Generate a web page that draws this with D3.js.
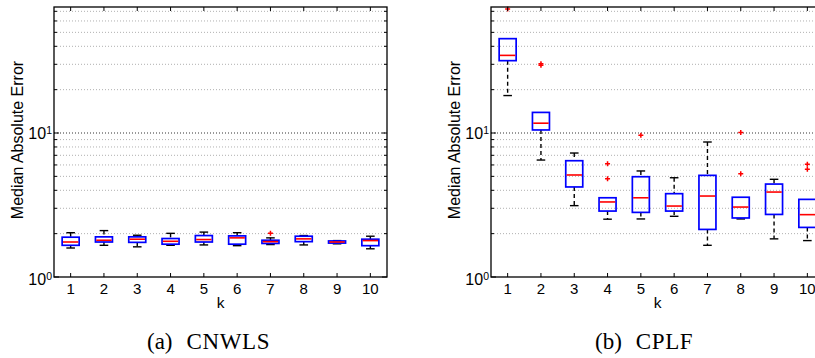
<!DOCTYPE html>
<html><head><meta charset="utf-8">
<script src="https://cdn.jsdelivr.net/npm/d3@7"></script>
<style>body{margin:0;background:#fff}svg{display:block}</style>
</head><body>
<svg id="c" width="815" height="358"></svg>
<script>
const ks = [1,2,3,4,5,6,7,8,9,10];
// CNWLS: lower whisker, q1, median, q3, upper whisker
const cnwlsLow  = [1.59,1.66,1.62,1.66,1.67,1.65,1.68,1.67,1.70,1.57];
const cnwlsQ1   = [1.66,1.75,1.74,1.69,1.75,1.69,1.71,1.76,1.72,1.65];
const cnwlsMed  = [1.75,1.80,1.83,1.77,1.82,1.87,1.76,1.84,1.75,1.79];
const cnwlsQ3   = [1.89,1.90,1.90,1.85,1.94,1.93,1.80,1.92,1.78,1.83];
const cnwlsHigh = [2.03,2.10,1.95,2.01,2.05,2.03,1.87,1.94,1.79,1.92];
const cnwlsOut  = [[],[],[],[],[],[],[2.01],[],[],[]];
// CPLF
const cplfLow  = [18.2,6.49,3.13,2.52,2.53,2.64,1.66,2.53,1.84,1.79];
const cplfQ1   = [31.8,10.5,4.22,2.87,2.81,2.87,2.14,2.57,2.72,2.21];
const cplfMed  = [34.6,11.7,5.11,3.32,3.55,3.11,3.65,3.06,3.89,2.71];
const cplfQ3   = [45.2,13.9,6.42,3.55,4.97,3.79,5.08,3.58,4.42,3.46];
const cplfHigh = [45.2,13.9,7.26,3.55,5.45,4.89,8.66,3.58,4.77,3.46];
const cplfOut  = [[72.6],[29.6,30.3],[],[6.12,4.82],[9.64],[],[],[10.1,5.22],[],[6.06,5.60]];
const yTickVals = [1,10];
const xLabel = "k", yLabel = "Median Absolute Error";
const capTags = ["(a)","(b)"];
const capNames = ["CNWLS","CPLF"];

const svg = d3.select("#c");
const yTop = 7, yBot = 277;
const y = d3.scaleLog().domain([1,75]).range([yBot, yTop]);
const minorVals = [2,3,4,5,6,7,8,9,20,30,40,50,60,70];
const SANS = "Liberation Sans, Arial, Helvetica, sans-serif";
const SERIF = "Liberation Serif, Times New Roman, serif";

function panel(x0, low, q1, med, q3, high, outs, tag, name, capX) {
  const W = 333;
  const x = d3.scaleLinear().domain([0.5,10.5]).range([x0, x0+W]);
  const g = svg.append("g");
  // grid
  g.selectAll(".mg").data(minorVals).join("line")
    .attr("x1",x0).attr("x2",x0+W).attr("y1",d=>y(d)).attr("y2",d=>y(d))
    .attr("stroke","#b0b0b0").attr("stroke-width",1).attr("stroke-dasharray","1,2");
  g.append("line").attr("x1",x0).attr("x2",x0+W).attr("y1",y(10)).attr("y2",y(10))
    .attr("stroke","#333").attr("stroke-width",1).attr("stroke-dasharray","1,2");
  // boxes
  const bw = 17;
  ks.forEach((k,i)=>{
    const cx = x(k);
    if (high[i] > q3[i]) {
      g.append("line").attr("x1",cx).attr("x2",cx).attr("y1",y(high[i])).attr("y2",y(q3[i]))
        .attr("stroke","#000").attr("stroke-width",1.4).attr("stroke-dasharray","4,3");
      g.append("line").attr("x1",cx-4.3).attr("x2",cx+4.3).attr("y1",y(high[i])).attr("y2",y(high[i]))
        .attr("stroke","#000").attr("stroke-width",1.4);
    }
    if (low[i] < q1[i]) {
      g.append("line").attr("x1",cx).attr("x2",cx).attr("y1",y(q1[i])).attr("y2",y(low[i]))
        .attr("stroke","#000").attr("stroke-width",1.4).attr("stroke-dasharray","4,3");
      g.append("line").attr("x1",cx-4.3).attr("x2",cx+4.3).attr("y1",y(low[i])).attr("y2",y(low[i]))
        .attr("stroke","#000").attr("stroke-width",1.4);
    }
    g.append("rect").attr("x",cx-bw/2).attr("width",bw)
      .attr("y",y(q3[i])).attr("height",y(q1[i])-y(q3[i]))
      .attr("fill","none").attr("stroke","#0000ff").attr("stroke-width",1.7);
    g.append("line").attr("x1",cx-bw/2+0.8).attr("x2",cx+bw/2-0.8).attr("y1",y(med[i])).attr("y2",y(med[i]))
      .attr("stroke","#ff0000").attr("stroke-width",1.6);
    outs[i].forEach(v=>{
      const yy = y(v);
      g.append("path").attr("d",`M${cx-2.5},${yy}H${cx+2.5}M${cx},${yy-2.5}V${yy+2.5}`)
        .attr("stroke","#ff0000").attr("stroke-width",1.5);
    });
  });
  // frame
  g.append("rect").attr("x",x0).attr("y",yTop).attr("width",W).attr("height",yBot-yTop)
    .attr("fill","none").attr("stroke","#000").attr("stroke-width",1.3);
  // x ticks (inward, top and bottom)
  ks.forEach(k=>{
    g.append("line").attr("x1",x(k)).attr("x2",x(k)).attr("y1",yBot).attr("y2",yBot-4).attr("stroke","#000");
    g.append("line").attr("x1",x(k)).attr("x2",x(k)).attr("y1",yTop).attr("y2",yTop+4).attr("stroke","#000");
  });
  // y ticks
  yTickVals.forEach(v=>{
    g.append("line").attr("x1",x0).attr("x2",x0+5).attr("y1",y(v)).attr("y2",y(v)).attr("stroke","#000");
    g.append("line").attr("x1",x0+W).attr("x2",x0+W-5).attr("y1",y(v)).attr("y2",y(v)).attr("stroke","#000");
  });
  minorVals.forEach(v=>{
    g.append("line").attr("x1",x0).attr("x2",x0+3).attr("y1",y(v)).attr("y2",y(v)).attr("stroke","#000");
    g.append("line").attr("x1",x0+W).attr("x2",x0+W-3).attr("y1",y(v)).attr("y2",y(v)).attr("stroke","#000");
  });
  // x tick labels
  ks.forEach(k=>{
    g.append("text").attr("x",x(k)).attr("y",yBot+17).attr("text-anchor","middle")
      .attr("font-family",SANS).attr("font-size",15).text(k);
  });
  // y tick labels
  yTickVals.forEach(v=>{
    const t = g.append("text").attr("x",x0-2).attr("y",y(v)+(v===1?7.5:6)).attr("text-anchor","end")
      .attr("font-family",SANS).attr("font-size",16);
    t.append("tspan").text("10");
    t.append("tspan").attr("dy",-5).attr("font-size",10.5).text(Math.round(Math.log10(v)));
  });
  g.append("text").attr("x",x0+W/2).attr("y",yBot+31).attr("text-anchor","middle")
    .attr("font-family",SANS).attr("font-size",15.5).text(xLabel);
  g.append("text").attr("transform",`translate(${x0-31},140) rotate(-90)`)
    .attr("text-anchor","middle")
    .attr("font-family",SANS).attr("font-size",16).text(yLabel);
  const c = g.append("text").attr("x",capX).attr("y",349)
    .attr("font-family",SERIF).attr("font-size",23);
  c.append("tspan").text(tag);
  c.append("tspan").attr("dx",14).attr("letter-spacing",0.6).text(name);
}
panel(54, cnwlsLow, cnwlsQ1, cnwlsMed, cnwlsQ3, cnwlsHigh, cnwlsOut, capTags[0], capNames[0], 147);
panel(491, cplfLow, cplfQ1, cplfMed, cplfQ3, cplfHigh, cplfOut, capTags[1], capNames[1], 595);
</script>
</body></html>
